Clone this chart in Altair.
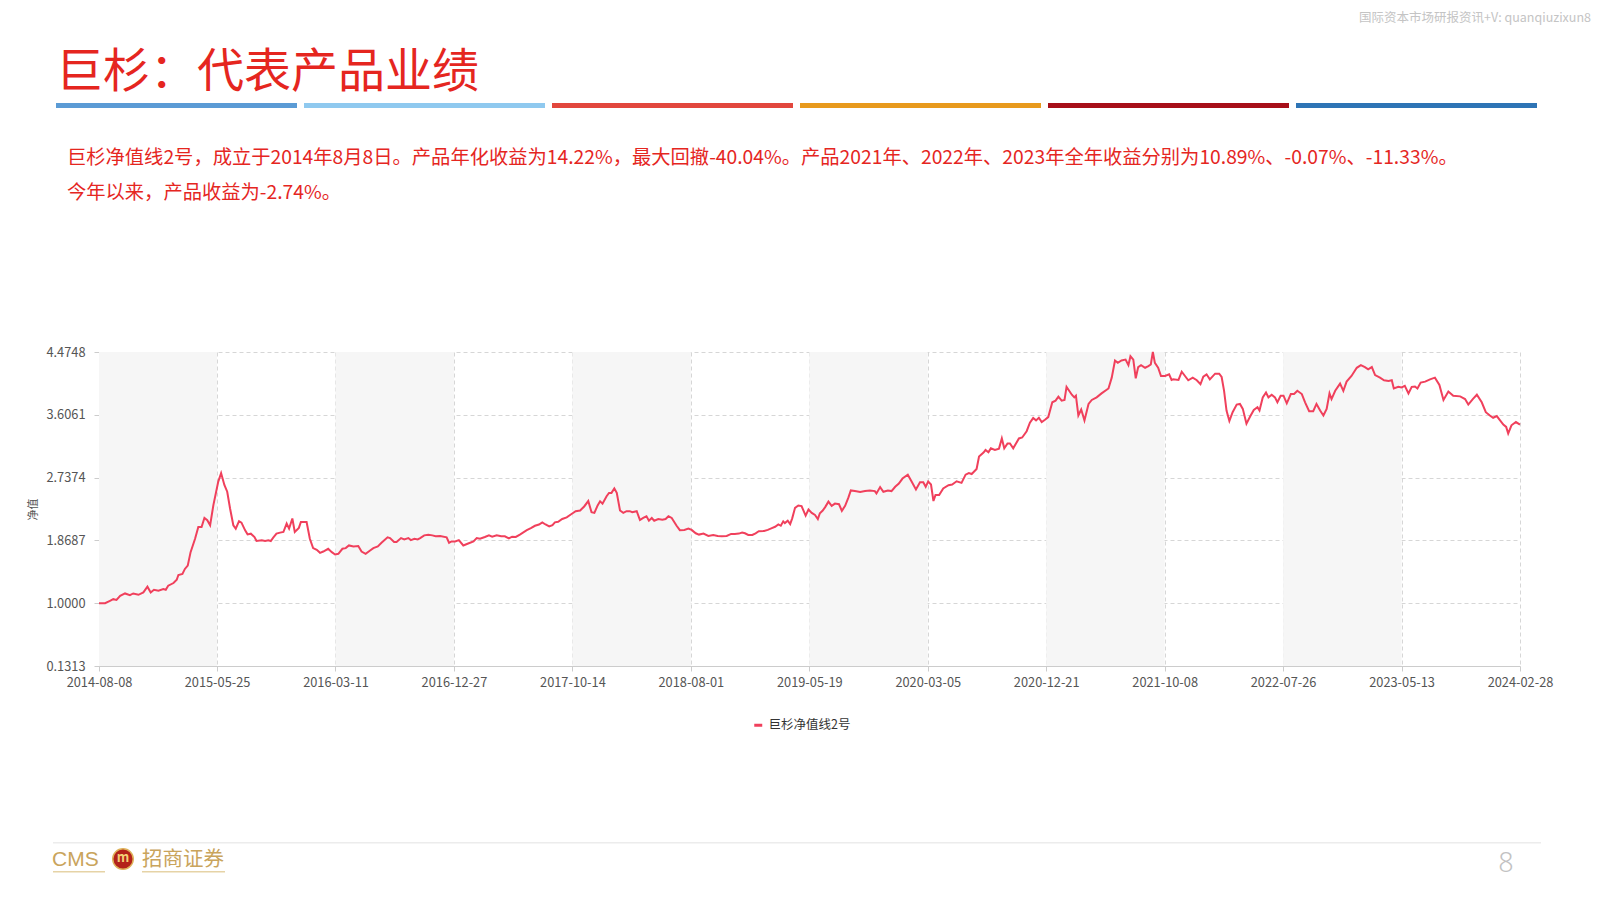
import altair as alt
import pandas as pd

# ---------------- data ----------------
SERIES_NAME = "巨杉净值线2号"
START_DATE = "2014-08-08"
# days since inception (2014-08-08) and net asset value
DAYS = [0, 15, 27, 35, 43, 52, 64, 76, 84, 97, 109, 119, 127, 135, 146, 158, 164, 170, 183, 191,
        195, 205, 211, 218, 225, 236, 244, 252, 259, 266, 273, 281, 293, 300, 308, 315, 322, 330, 336, 344,
        350, 359, 365, 373, 382, 387, 400, 408, 416, 422, 428, 436, 445, 453, 461, 467, 475, 481, 491, 496,
        510, 518, 526, 535, 543, 551, 563, 572, 580, 588, 598, 606, 614, 625, 637, 645, 655, 666, 674, 685,
        694, 709, 715, 725, 731, 742, 750, 760, 766, 775, 783, 789, 799, 809, 819, 827, 838, 854, 860, 866,
        875, 884, 895, 907, 920, 928, 936, 948, 958, 966, 977, 988, 997, 1007, 1015, 1024, 1034, 1051, 1061, 1071,
        1081, 1089, 1097, 1106, 1114, 1120, 1128, 1138, 1149, 1160, 1171, 1182, 1192, 1202, 1210, 1217, 1225, 1231, 1237, 1247,
        1253, 1259, 1266, 1272, 1280, 1288, 1296, 1304, 1310, 1321, 1329, 1337, 1345, 1351, 1358, 1364, 1374, 1384, 1392, 1399,
        1407, 1419, 1427, 1438, 1448, 1456, 1466, 1474, 1485, 1497, 1509, 1520, 1530, 1542, 1553, 1562, 1572, 1580, 1587, 1595,
        1605, 1613, 1621, 1634, 1643, 1653, 1661, 1669, 1675, 1681, 1685, 1692, 1698, 1703, 1710, 1718, 1726, 1736, 1743, 1751,
        1759, 1766, 1771, 1778, 1784, 1792, 1800, 1808, 1818, 1825, 1833, 1841, 1847, 1857, 1870, 1882, 1894, 1906, 1910, 1919,
        1927, 1938, 1947, 1956, 1965, 1974, 1987, 1996, 2007, 2017, 2025, 2031, 2037, 2044, 2050, 2055, 2064, 2074, 2087, 2096,
        2107, 2119, 2129, 2137, 2144, 2156, 2162, 2173, 2178, 2185, 2191, 2201, 2211, 2218, 2224, 2232, 2238, 2246, 2260, 2268,
        2279, 2287, 2295, 2302, 2309, 2316, 2324, 2332, 2342, 2350, 2357, 2365, 2372, 2377, 2390, 2396, 2400, 2406, 2413, 2421,
        2431, 2439, 2451, 2463, 2480, 2488, 2496, 2503, 2512, 2522, 2529, 2534, 2541, 2547, 2553, 2560, 2570, 2578, 2584, 2589,
        2594, 2602, 2609, 2619, 2629, 2635, 2639, 2652, 2660, 2668, 2676, 2687, 2697, 2706, 2713, 2721, 2729, 2742, 2752, 2758,
        2764, 2770, 2777, 2785, 2795, 2803, 2810, 2819, 2828, 2837, 2846, 2851, 2859, 2867, 2873, 2881, 2889, 2895, 2903, 2910,
        2918, 2928, 2936, 2944, 2955, 2963, 2973, 2983, 2991, 3000, 3008, 3016, 3023, 3028, 3037, 3049, 3057, 3065, 3077, 3090,
        3100, 3110, 3118, 3127, 3135, 3147, 3157, 3168, 3176, 3181, 3192, 3200, 3208, 3217, 3225, 3233, 3239, 3247, 3258, 3270,
        3282, 3293, 3303, 3315, 3327, 3344, 3356, 3364, 3375, 3385, 3397, 3407, 3417, 3425, 3434, 3442, 3450, 3457, 3462, 3470,
        3481, 3491]
NAV = [1.000, 1.000, 1.033, 1.056, 1.046, 1.102, 1.135, 1.112, 1.135, 1.116, 1.149, 1.228, 1.149, 1.186, 1.172, 1.195, 1.186, 1.242, 1.279, 1.325,
       1.390, 1.404, 1.474, 1.520, 1.706, 1.892, 2.055, 2.055, 2.180, 2.148, 2.078, 2.357, 2.682, 2.800, 2.635, 2.542, 2.310, 2.078, 2.031, 2.134,
       2.115, 2.008, 1.952, 1.962, 1.915, 1.860, 1.869, 1.860, 1.869, 1.860, 1.906, 1.962, 1.976, 1.985, 2.101, 2.031, 2.171, 1.985, 2.041, 2.124,
       2.124, 1.892, 1.762, 1.739, 1.697, 1.715, 1.753, 1.706, 1.674, 1.683, 1.753, 1.762, 1.799, 1.785, 1.790, 1.715, 1.683, 1.729, 1.762, 1.785,
       1.836, 1.911, 1.901, 1.846, 1.846, 1.901, 1.883, 1.901, 1.873, 1.892, 1.883, 1.901, 1.938, 1.948, 1.938, 1.925, 1.929, 1.911, 1.836, 1.855,
       1.855, 1.873, 1.798, 1.826, 1.855, 1.902, 1.892, 1.916, 1.939, 1.920, 1.939, 1.925, 1.925, 1.897, 1.920, 1.916, 1.949, 2.010, 2.038, 2.071,
       2.089, 2.118, 2.089, 2.061, 2.080, 2.118, 2.127, 2.165, 2.188, 2.230, 2.273, 2.282, 2.338, 2.413, 2.258, 2.249, 2.352, 2.409, 2.376, 2.479,
       2.526, 2.526, 2.587, 2.526, 2.282, 2.249, 2.273, 2.273, 2.258, 2.273, 2.150, 2.179, 2.202, 2.141, 2.179, 2.141, 2.165, 2.155, 2.165, 2.202,
       2.179, 2.071, 2.010, 2.014, 2.033, 2.014, 1.967, 1.949, 1.963, 1.930, 1.944, 1.930, 1.925, 1.930, 1.958, 1.958, 1.963, 1.977, 1.967, 1.944,
       1.944, 1.967, 1.995, 2.000, 2.014, 2.038, 2.057, 2.089, 2.071, 2.132, 2.108, 2.141, 2.094, 2.174, 2.319, 2.352, 2.343, 2.211, 2.296, 2.249,
       2.221, 2.165, 2.244, 2.282, 2.329, 2.405, 2.346, 2.378, 2.369, 2.278, 2.346, 2.460, 2.560, 2.551, 2.537, 2.551, 2.560, 2.551, 2.519, 2.606,
       2.542, 2.560, 2.551, 2.610, 2.656, 2.724, 2.778, 2.687, 2.574, 2.674, 2.674, 2.610, 2.683, 2.642, 2.414, 2.496, 2.496, 2.587, 2.633, 2.642,
       2.687, 2.665, 2.778, 2.801, 2.787, 2.856, 3.028, 3.083, 3.119, 3.088, 3.142, 3.119, 3.138, 3.279, 3.142, 3.210, 3.210, 3.142, 3.279, 3.292,
       3.379, 3.497, 3.561, 3.529, 3.565, 3.506, 3.538, 3.574, 3.779, 3.802, 3.856, 3.802, 3.811, 3.993, 3.884, 3.847, 3.870, 3.597, 3.679, 3.529,
       3.756, 3.811, 3.847, 3.902, 3.970, 4.120, 4.357, 4.325, 4.357, 4.370, 4.293, 4.416, 4.370, 4.111, 4.266, 4.293, 4.257, 4.279, 4.302, 4.4748,
       4.325, 4.257, 4.143, 4.143, 4.166, 4.088, 4.097, 4.088, 4.202, 4.143, 4.084, 4.120, 4.084, 4.029, 4.134, 4.166, 4.097, 4.175, 4.175, 4.129,
       3.938, 3.665, 3.520, 3.642, 3.747, 3.756, 3.688, 3.483, 3.583, 3.674, 3.711, 3.665, 3.847, 3.915, 3.847, 3.884, 3.847, 3.779, 3.870, 3.870,
       3.765, 3.893, 3.893, 3.938, 3.893, 3.779, 3.656, 3.656, 3.756, 3.665, 3.597, 3.688, 3.902, 3.824, 3.938, 4.038, 3.938, 4.065, 4.143, 4.256,
       4.293, 4.266, 4.234, 4.266, 4.156, 4.120, 4.084, 4.075, 4.084, 3.970, 3.993, 3.984, 4.006, 3.902, 3.993, 3.997, 3.970, 4.052, 4.065, 4.097,
       4.120, 4.020, 3.811, 3.929, 3.870, 3.861, 3.824, 3.747, 3.824, 3.884, 3.779, 3.642, 3.597, 3.565, 3.588, 3.529, 3.470, 3.438, 3.347, 3.461,
       3.506, 3.470]

X_TICK_LABELS = ["2014-08-08", "2015-05-25", "2016-03-11", "2016-12-27", "2017-10-14", "2018-08-01",
                 "2019-05-19", "2020-03-05", "2020-12-21", "2021-10-08", "2022-07-26", "2023-05-13",
                 "2024-02-28"]
Y_TICKS = [0.1313, 1.0000, 1.8687, 2.7374, 3.6061, 4.4748]

TITLE = "巨杉：代表产品业绩"
PARA_1 = ("巨杉净值线2号，成立于2014年8月8日。产品年化收益为14.22%，最大回撤-40.04%。"
          "产品2021年、2022年、2023年全年收益分别为10.89%、-0.07%、-11.33%。")
PARA_2 = "今年以来，产品收益为-2.74%。"
WATERMARK = "国际资本市场研报资讯+V: quanqiuzixun8"
Y_TITLE = "净值"
LOGO_EN = "CMS"
LOGO_CN = "招商证券"
PAGE_NO = "8"

BAR_COLORS = ["#5b9bd5", "#8fc9ef", "#e2473d", "#e89a1d", "#a70f19", "#2e74b5"]

# ---------------- style / layout ----------------
FONT = "Noto Sans CJK SC"
RED = "#e5261f"
LINE_COLOR = "#f0405c"
GOLD = "#c9a45c"
AXIS_TXT = "#555555"
W, H = 1421, 314
OX, OY = 99, 352          # page position of the plot origin
PAD = {"left": OX - 8, "top": OY - 8, "right": 1592 - OX - W, "bottom": 892 - OY - H}


def px(X):
    return X - OX


def py(Y):
    return Y - OY


df = pd.DataFrame({
    "date": pd.Timestamp(START_DATE) + pd.to_timedelta(DAYS, unit="D"),
    "nav": NAV,
    "series": SERIES_NAME,
})
ticks = pd.to_datetime(X_TICK_LABELS)
bands = pd.DataFrame({"start": ticks[0:-1:2], "end": ticks[1::2]})


def dt(t):
    return alt.DateTime(year=int(t.year), month=int(t.month), date=int(t.day))


x_scale = alt.Scale(domain=[dt(ticks[0]), dt(ticks[-1])])
y_scale = alt.Scale(domain=[Y_TICKS[0], Y_TICKS[-1]], nice=False, zero=False)

x_axis = alt.Axis(values=[dt(t) for t in ticks], format="%Y-%m-%d", labelFlush=False,
                  labelOverlap=False, title=None, grid=True, gridDash=[4, 3], gridColor="#d6d6d6",
                  domainColor="#cccccc", tickColor="#cccccc", tickSize=5, labelColor=AXIS_TXT,
                  labelFontSize=12.8, labelFont=FONT, labelPadding=5)
y_axis = alt.Axis(values=Y_TICKS, format=".4f", title=Y_TITLE, titleFont=FONT, titleFontSize=11,
                  titleFontWeight="normal", titleColor=AXIS_TXT, titlePadding=7, grid=True,
                  gridDash=[4, 3], gridColor="#d6d6d6", domainColor="#cccccc", tickColor="#cccccc",
                  tickSize=5, labelColor=AXIS_TXT, labelFontSize=12.8, labelFont=FONT, labelPadding=9)

band_layer = alt.Chart(bands).mark_rect(color="#f6f6f6").encode(
    x=alt.X("start:T", scale=x_scale, axis=x_axis),
    x2="end:T",
    y=alt.value(0),
    y2=alt.value(H),
)

line_layer = alt.Chart(df).mark_line(strokeWidth=2).encode(
    x=alt.X("date:T", scale=x_scale, axis=x_axis),
    y=alt.Y("nav:Q", scale=y_scale, axis=y_axis),
    color=alt.Color("series:N",
                    scale=alt.Scale(domain=[SERIES_NAME], range=[LINE_COLOR]),
                    legend=alt.Legend(title=None, orient="none", legendX=px(752), legendY=py(719),
                                      symbolType="stroke", symbolStrokeWidth=3, symbolSize=64,
                                      labelFont=FONT, labelFontSize=12.5, labelColor="#333333",
                                      padding=0)),
)

ONE = [{}]


def text_layer(txt, X, Y, size, color, align="left", font=FONT, weight="normal"):
    return alt.Chart(alt.Data(values=[{"t": txt}])).mark_text(
        align=align, baseline="middle", fontSize=size, color=color, font=font, fontWeight=weight
    ).encode(x=alt.value(px(X)), y=alt.value(py(Y)), text="t:N")


def rect_layer(X1, X2, Y1, Y2, color):
    return alt.Chart(alt.Data(values=ONE)).mark_rect(color=color).encode(
        x=alt.value(px(X1)), x2=alt.value(px(X2)), y=alt.value(py(Y1)), y2=alt.value(py(Y2)))


decos = []
decos.append(text_layer(TITLE, 56, 73, 47, RED))
for i, c in enumerate(BAR_COLORS):
    x0 = 56 + i * 248
    decos.append(rect_layer(x0, x0 + 241, 103, 108, c))
decos.append(text_layer(PARA_1, 67, 158, 19.3, RED))
decos.append(text_layer(PARA_2, 67, 193, 19.3, RED))
decos.append(text_layer(WATERMARK, 1591, 18, 12.5, "#c4c4c4", align="right"))

# footer
decos.append(rect_layer(53, 1541, 842, 843.5, "#ececec"))
decos.append(text_layer(LOGO_EN, 52, 860, 21, GOLD, font="Liberation Sans"))
decos.append(rect_layer(53, 105, 871, 872.5, "#e6d3a6"))
decos.append(alt.Chart(alt.Data(values=ONE)).mark_point(
    shape="circle", filled=True, size=420, fill="#b3221a", stroke="#deb25a", strokeWidth=1.5, opacity=1
).encode(x=alt.value(px(123)), y=alt.value(py(859))))
decos.append(text_layer("m", 123, 858, 13, "#f3cf74", align="center", weight="bold"))
decos.append(text_layer(LOGO_CN, 142, 860, 20.5, GOLD))
decos.append(rect_layer(142, 225, 871, 872.5, "#e6d3a6"))
decos.append(text_layer(PAGE_NO, 1506, 864, 27, "#c2c2c2", align="center", font="Noto Sans", weight=300))

chart = alt.layer(band_layer, line_layer, *decos).properties(
    width=W, height=H, padding=PAD, autosize=alt.AutoSizeParams(type="none"), background="white"
).configure_view(strokeWidth=0)

chart.save("out.html", embed_options={"renderer": "svg", "actions": False})
